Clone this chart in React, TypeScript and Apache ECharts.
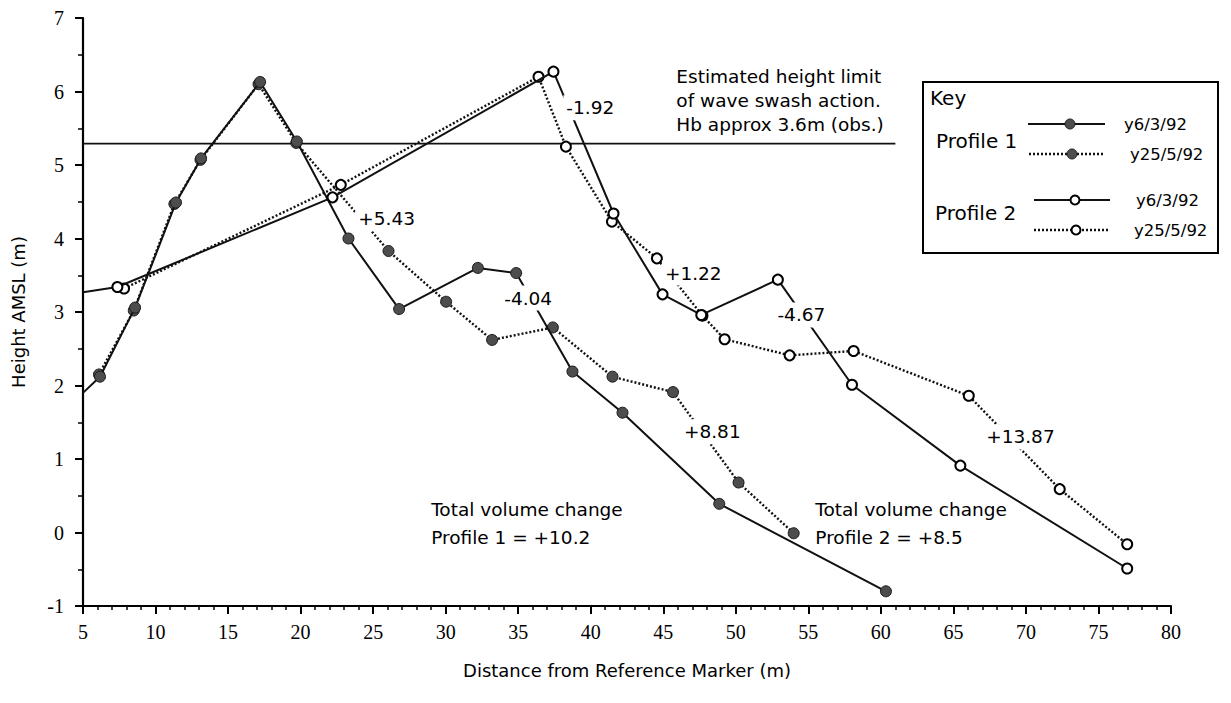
import React, { useEffect, useRef } from "react";
import * as echarts from "echarts";

// ---- Data ----
const p1MarStart = [5, 1.9];
const p1MarX = [6.17, 8.59, 11.41, 13.14, 17.21, 19.74, 23.3, 26.79, 32.22, 34.86, 38.74, 42.19, 48.86, 60.35];
const p1MarY = [2.12, 3.06, 4.49, 5.09, 6.13, 5.32, 4.0, 3.04, 3.6, 3.53, 2.19, 1.63, 0.39, -0.8];

const p1MayX = [6.1, 8.5, 11.3, 13.1, 17.1, 19.7, 26.06, 30.03, 33.2, 37.39, 41.5, 45.67, 50.19, 53.99];
const p1MayY = [2.15, 3.02, 4.47, 5.07, 6.1, 5.3, 3.83, 3.14, 2.62, 2.79, 2.12, 1.91, 0.68, -0.01];

const p2MarStart = [5, 3.27];
const p2MarX = [7.37, 22.2, 37.43, 41.57, 44.95, 47.62, 52.9, 58.01, 65.48, 76.98];
const p2MarY = [3.34, 4.56, 6.27, 4.34, 3.24, 2.96, 3.44, 2.01, 0.91, -0.49];

const p2MayX = [7.83, 22.77, 36.4, 38.29, 41.46, 44.56, 47.7, 49.23, 53.71, 58.12, 66.06, 72.33, 76.98];
const p2MayY = [3.32, 4.73, 6.2, 5.25, 4.23, 3.73, 2.95, 2.63, 2.41, 2.47, 1.86, 0.59, -0.16];

const swashLimitY = 5.29;
const swashLimitX = [5, 61];

const volumeLabels = ["-1.92", "+5.43", "-4.04", "+1.22", "-4.67", "+8.81", "+13.87"];
const volumeX = [39.97, 25.93, 35.69, 47.07, 54.52, 48.38, 69.62];
const volumeY = [5.78, 4.27, 3.19, 3.53, 2.96, 1.37, 1.3];

const noteTexts = [
  "Estimated height limit\nof wave swash action.\nHb approx 3.6m (obs.)",
  "Total volume change\nProfile 1 = +10.2",
  "Total volume change\nProfile 2 = +8.5",
];
const noteX = [45.9, 29.0, 55.48];
const noteY = [5.884, 0.12, 0.12];
const noteLineHeights = [24, 28, 28];

const legendLabels = ["y6/3/92", "y25/5/92", "y6/3/92", "y25/5/92"];

// ---- Styles ----
const SANS = '"DejaVu Sans", "Liberation Sans", sans-serif';
const SERIF = '"Liberation Serif", "DejaVu Serif", serif';
const INK = "#000";
const FILL_DARK = "#4d4d4d";

const filledSymbol = { color: FILL_DARK, borderColor: "#1a1a1a", borderWidth: 1 };
const openSymbol = { color: "#fff", borderColor: "#000", borderWidth: 2 };

function pairs(xs: number[], ys: number[]) {
  return xs.map((x, i) => [x, ys[i]]);
}

function buildOption() {
  const p1Mar = [{ value: p1MarStart, symbol: "none" }, ...pairs(p1MarX, p1MarY)];
  const p1May = pairs(p1MayX, p1MayY);
  const p2Mar = [{ value: p2MarStart, symbol: "none" }, ...pairs(p2MarX, p2MarY)];
  const p2May = pairs(p2MayX, p2MayY);

  const solidLine = { color: "#111", width: 2, type: "solid" };
  const dottedLine = { color: "#111", width: 2.4, type: [2, 2] };

  const legendRows = [
    { y: 124, x1: 1028, x2: 1105, mx: 1070, dotted: false, filled: true, lx: 1124 },
    { y: 154, x1: 1029, x2: 1105, mx: 1072, dotted: true, filled: true, lx: 1130 },
    { y: 200, x1: 1034, x2: 1110, mx: 1075, dotted: false, filled: false, lx: 1136 },
    { y: 230, x1: 1034, x2: 1110, mx: 1076, dotted: true, filled: false, lx: 1134 },
  ];

  const legendGraphics: any[] = [
    {
      type: "rect",
      shape: { x: 923, y: 82, width: 295, height: 171 },
      style: { fill: "#fff", stroke: INK, lineWidth: 2 },
      z: 20,
    },
    {
      type: "text",
      x: 930,
      y: 98,
      style: { text: "Key", font: `20px ${SANS}`, fill: INK, verticalAlign: "middle" },
      z: 21,
    },
    {
      type: "text",
      x: 936,
      y: 141,
      style: { text: "Profile 1", font: `20px ${SANS}`, fill: INK, verticalAlign: "middle" },
      z: 21,
    },
    {
      type: "text",
      x: 935,
      y: 213,
      style: { text: "Profile 2", font: `20px ${SANS}`, fill: INK, verticalAlign: "middle" },
      z: 21,
    },
  ];
  legendRows.forEach((r, i) => {
    legendGraphics.push({
      type: "line",
      shape: { x1: r.x1, y1: r.y, x2: r.x2, y2: r.y },
      style: { stroke: "#111", lineWidth: r.dotted ? 2.4 : 2, lineDash: r.dotted ? [2, 2] : null },
      z: 21,
    });
    legendGraphics.push({
      type: "circle",
      shape: { cx: r.mx, cy: r.y, r: r.filled ? 5 : 4.5 },
      style: r.filled
        ? { fill: FILL_DARK, stroke: "#1a1a1a", lineWidth: 1 }
        : { fill: "#fff", stroke: "#000", lineWidth: 2 },
      z: 22,
    });
    legendGraphics.push({
      type: "text",
      x: r.lx,
      y: r.y,
      style: { text: legendLabels[i], font: `16.5px ${SANS}`, fill: INK, verticalAlign: "middle" },
      z: 21,
    });
  });

  const tickLabel = {
    color: INK,
    margin: 17,
    formatter: (v: number) => `{t|${v}}`,
    rich: { t: { fontFamily: SERIF, fontSize: 20, color: INK } },
  };

  return {
    animation: false,
    backgroundColor: "#fff",
    textStyle: { fontFamily: SANS, color: INK },
    grid: { left: 83, right: 60, top: 18, bottom: 97, containLabel: false },
    xAxis: {
      type: "value",
      min: 5,
      max: 80,
      interval: 5,
      name: "Distance from Reference Marker (m)",
      nameLocation: "middle",
      nameGap: 55,
      nameTextStyle: { fontFamily: SANS, fontSize: 18, color: INK },
      axisLine: { show: true, onZero: false, lineStyle: { color: INK, width: 2 } },
      axisTick: { show: true, length: 8, lineStyle: { color: INK, width: 2 } },
      minorTick: { show: true, splitNumber: 5, length: 4, lineStyle: { color: INK, width: 1.5 } },
      axisLabel: { ...tickLabel, margin: 16 },
      splitLine: { show: false },
      minorSplitLine: { show: false },
    },
    yAxis: {
      type: "value",
      min: -1,
      max: 7,
      interval: 1,
      name: "Height AMSL (m)",
      nameLocation: "middle",
      nameGap: 56,
      nameTextStyle: { fontFamily: SANS, fontSize: 18, color: INK },
      axisLine: { show: true, onZero: false, lineStyle: { color: INK, width: 2.2 } },
      axisTick: { show: true, length: 8, lineStyle: { color: INK, width: 2 } },
      minorTick: { show: true, splitNumber: 2, length: 5, lineStyle: { color: INK, width: 1.5 } },
      axisLabel: { ...tickLabel, margin: 19 },
      splitLine: { show: false },
      minorSplitLine: { show: false },
    },
    series: [
      {
        name: "Swash limit",
        type: "line",
        data: swashLimitX.map((x) => [x, swashLimitY]),
        symbol: "none",
        lineStyle: { color: "#111", width: 1.8 },
        z: 2,
      },
      {
        name: "Profile 1 y25/5/92",
        type: "line",
        data: p1May,
        symbol: "circle",
        symbolSize: 11,
        itemStyle: filledSymbol,
        lineStyle: dottedLine,
        z: 3,
      },
      {
        name: "Profile 1 y6/3/92",
        type: "line",
        data: p1Mar,
        symbol: "circle",
        symbolSize: 11,
        itemStyle: filledSymbol,
        lineStyle: solidLine,
        z: 4,
      },
      {
        name: "Profile 2 y25/5/92",
        type: "line",
        data: p2May,
        symbol: "circle",
        symbolSize: 10,
        itemStyle: openSymbol,
        lineStyle: dottedLine,
        z: 5,
      },
      {
        name: "Profile 2 y6/3/92",
        type: "line",
        data: p2Mar,
        symbol: "circle",
        symbolSize: 10,
        itemStyle: openSymbol,
        lineStyle: solidLine,
        z: 6,
      },
      {
        name: "Volume change",
        type: "scatter",
        data: volumeX.map((x, i) => ({ value: [x, volumeY[i]], label: { formatter: volumeLabels[i] } })),
        symbolSize: 0,
        silent: true,
        z: 10,
        itemStyle: { opacity: 1 },
        label: {
          show: true,
          position: "inside",
          fontFamily: SANS,
          fontSize: 18.5,
          color: INK,
          opacity: 1,
          backgroundColor: "#fff",
          padding: [3, 3],
        },
      },
      {
        name: "Notes",
        type: "scatter",
        data: noteX.map((x, i) => ({
          value: [x, noteY[i]],
          label: { formatter: noteTexts[i], lineHeight: noteLineHeights[i] },
        })),
        symbolSize: 0,
        silent: true,
        z: 10,
        itemStyle: { opacity: 1 },
        label: {
          show: true,
          position: "inside",
          align: "left",
          verticalAlign: "middle",
          fontFamily: SANS,
          fontSize: 18.5,
          color: INK,
          opacity: 1,
        },
      },
    ],
    graphic: legendGraphics,
  };
}

export default function App() {
  const ref = useRef<HTMLDivElement>(null);
  useEffect(() => {
    if (!ref.current) return;
    const chart = echarts.init(ref.current, null, { renderer: "svg" });
    chart.setOption(buildOption() as any);
    return () => chart.dispose();
  }, []);
  return <div ref={ref} style={{ width: 1231, height: 703, margin: "-8px 0 0 -8px" }} />;
}
